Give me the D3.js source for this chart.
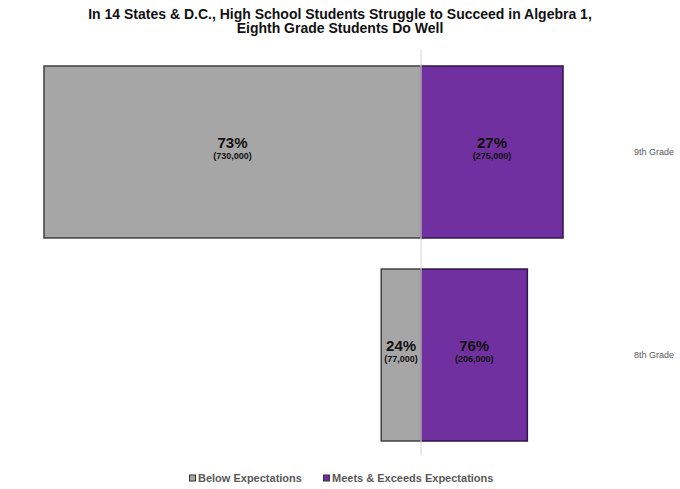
<!DOCTYPE html>
<html>
<head>
<meta charset="utf-8">
<script src="https://cdn.jsdelivr.net/npm/d3@7"></script>
<style>
  body { margin: 0; background: #fff; }
  svg { display: block; }
</style>
</head>
<body>
<svg id="chart" width="680" height="489"></svg>
<script>
// data
var grades = ["9th Grade", "8th Grade"];
var belowPct = [73, 24];
var belowCount = [730000, 77000];
var meetsPct = [27, 76];
var meetsCount = [275000, 206000];
var seriesNames = ["Below Expectations", "Meets & Exceeds Expectations"];
var seriesColors = ["#a6a6a6", "#7030a0"];
var seriesStrokes = ["#404040", "#2e1547"];

var titleLines = ["In 14 States & D.C., High School Students Struggle to Succeed in Algebra 1,",
                  "Eighth Grade Students Do Well"];

var rows = grades.map((g, i) => ({
  grade: g,
  below: belowCount[i], belowPct: belowPct[i],
  meets: meetsCount[i], meetsPct: meetsPct[i]
}));

var svg = d3.select('#chart');
var fmt = d3.format(',');

var x = d3.scaleLinear()
  .domain([-d3.max(belowCount), d3.max(meetsCount)])
  .range([44, 563]);

var y = d3.scaleBand()
  .domain(grades)
  .range([66, 441])
  .paddingInner(0.153)
  .paddingOuter(0);

var labelFont = '"Liberation Sans", Arial, Helvetica, sans-serif';

// title
svg.append('g').selectAll('text')
  .data(titleLines)
  .enter()
  .append('text')
  .attr('x', 340)
  .attr('y', (d, i) => 18.5 + i * 14.5)
  .attr('text-anchor', 'middle')
  .style('font-family', labelFont)
  .style('font-weight', 'bold')
  .style('font-size', '14px')
  .style('fill', '#111')
  .text(d => d);

// bars
var barGroups = svg.append('g').selectAll('g')
  .data(rows)
  .enter()
  .append('g');

barGroups.append('rect')
  .attr('x', d => x(-d.below))
  .attr('y', d => y(d.grade))
  .attr('width', d => x(0) - x(-d.below))
  .attr('height', y.bandwidth())
  .attr('fill', seriesColors[0])
  .attr('stroke', seriesStrokes[0])
  .attr('stroke-width', 1.5);

barGroups.append('rect')
  .attr('x', x(0))
  .attr('y', d => y(d.grade))
  .attr('width', d => x(d.meets) - x(0))
  .attr('height', y.bandwidth())
  .attr('fill', seriesColors[1])
  .attr('stroke', seriesStrokes[1])
  .attr('stroke-width', 1.5);

// centre line over the bars
svg.append('line')
  .attr('x1', x(0))
  .attr('x2', x(0))
  .attr('y1', 50)
  .attr('y2', 455)
  .attr('stroke', '#dcdcdc')
  .attr('stroke-width', 1.2);

// value labels
function addLabels(getX, pctKey, countKey) {
  barGroups.append('text')
    .attr('x', getX)
    .attr('y', d => y(d.grade) + y.bandwidth() / 2 - 4)
    .attr('text-anchor', 'middle')
    .style('font-family', labelFont)
    .style('font-weight', 'bold')
    .style('font-size', '15px')
    .style('fill', '#111')
    .text(d => d[pctKey] + '%');

  barGroups.append('text')
    .attr('x', getX)
    .attr('y', d => y(d.grade) + y.bandwidth() / 2 + 7)
    .attr('text-anchor', 'middle')
    .style('font-family', labelFont)
    .style('font-weight', 'bold')
    .style('font-size', '9px')
    .style('fill', '#111')
    .text(d => '(' + fmt(d[countKey]) + ')');
}

addLabels(d => (x(-d.below) + x(0)) / 2, 'belowPct', 'below');
addLabels(d => (x(0) + x(d.meets)) / 2, 'meetsPct', 'meets');

// category labels on the right
svg.append('g').selectAll('text')
  .data(grades)
  .enter()
  .append('text')
  .attr('x', 634)
  .attr('y', d => y(d) + y.bandwidth() / 2 + 3)
  .style('font-family', labelFont)
  .style('font-size', '9px')
  .style('fill', '#595959')
  .text(d => d);

// legend
var legendX = [189, 323];
var legend = svg.append('g').selectAll('g')
  .data(seriesNames)
  .enter()
  .append('g')
  .attr('transform', (d, i) => `translate(${legendX[i]}, 478)`);

legend.append('rect')
  .attr('x', 0.5)
  .attr('y', -3)
  .attr('width', 6)
  .attr('height', 6)
  .attr('fill', (d, i) => seriesColors[i])
  .attr('stroke', '#333')
  .attr('stroke-width', 1);

legend.append('text')
  .attr('x', 9)
  .attr('y', 4)
  .style('font-family', labelFont)
  .style('font-weight', 'bold')
  .style('font-size', '11px')
  .style('fill', '#595959')
  .text(d => d);
</script>
</body>
</html>
